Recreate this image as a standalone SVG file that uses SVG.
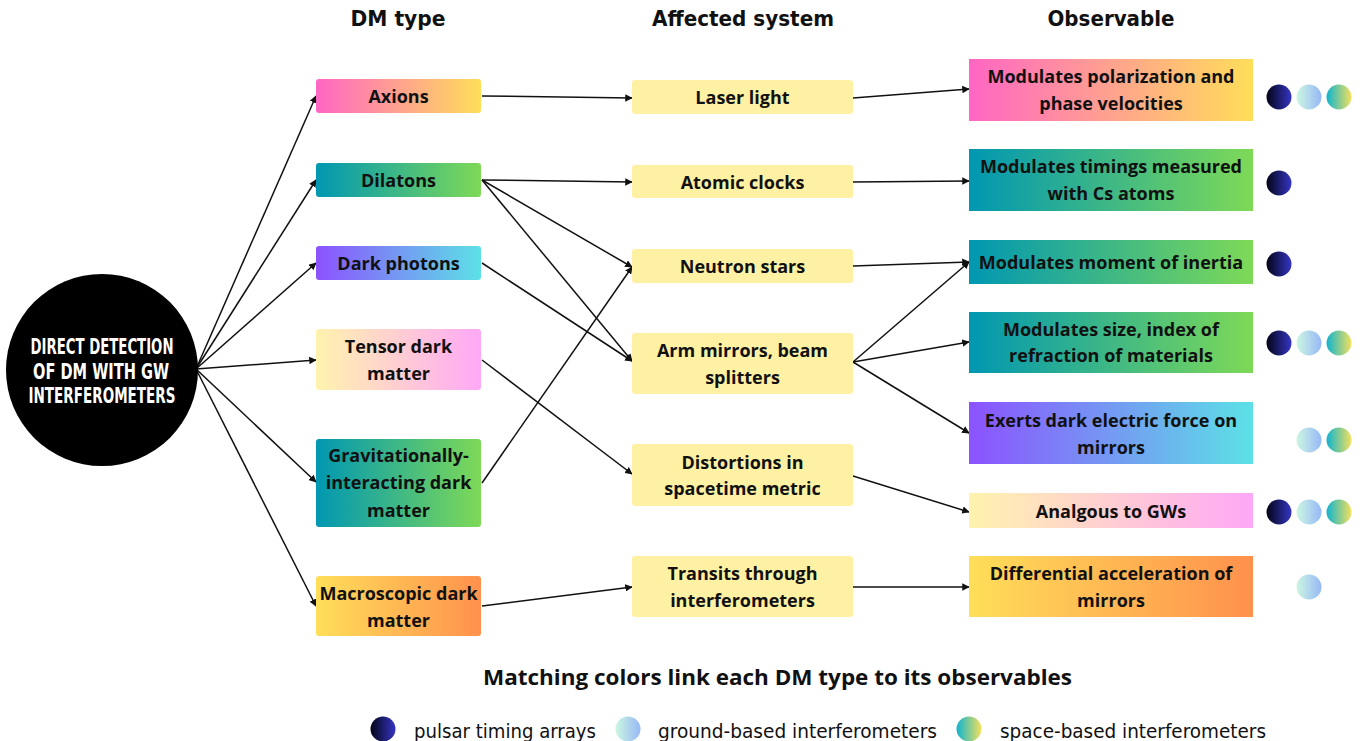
<svg xmlns="http://www.w3.org/2000/svg" width="1364" height="741" viewBox="0 0 1364 741">
<style>
.t{font-family:"Open Sans","Noto Sans","Liberation Sans",sans-serif;font-weight:700;font-size:18px;fill:#111;text-anchor:middle}
.h{font-family:"Liberation Sans Narrow","DejaVu Sans Condensed","Liberation Sans",sans-serif;font-weight:700;font-size:22px;fill:#111;text-anchor:middle}
.lg{font-family:"Liberation Sans Narrow","DejaVu Sans Condensed","Liberation Sans",sans-serif;font-weight:400;font-size:20px;fill:#111}
.c{font-family:"Liberation Sans Narrow","DejaVu Sans Condensed","Liberation Sans",sans-serif;font-weight:700;font-size:22px;fill:#fff;text-anchor:middle}
.cap{font-family:"Open Sans","Noto Sans","Liberation Sans",sans-serif;font-weight:700;font-size:22px;fill:#111;text-anchor:middle}
.sys{fill:#FFF1A3}
.ln{stroke:#111;stroke-width:1.5;fill:none;marker-end:url(#ah)}
</style>
<defs>
<marker id="ah" viewBox="0 0 10 10" refX="9" refY="5" markerWidth="5" markerHeight="5" orient="auto" markerUnits="strokeWidth">
<path d="M0,0 L10,5 L0,10 z" fill="#111"/>
</marker>
<linearGradient id="gAx" x1="0" y1="0" x2="1" y2="0"><stop offset="0" stop-color="#FF66C4"/><stop offset="1" stop-color="#FFDE59"/></linearGradient>
<linearGradient id="gDi" x1="0" y1="0" x2="1" y2="0"><stop offset="0" stop-color="#0097B2"/><stop offset="1" stop-color="#7ED957"/></linearGradient>
<linearGradient id="gDp" x1="0" y1="0" x2="1" y2="0"><stop offset="0" stop-color="#8C52FF"/><stop offset="1" stop-color="#5CE1E6"/></linearGradient>
<linearGradient id="gTe" x1="0" y1="0" x2="1" y2="0"><stop offset="0" stop-color="#FFF3AE"/><stop offset="1" stop-color="#FFA8F7"/></linearGradient>
<linearGradient id="gMa" x1="0" y1="0" x2="1" y2="0"><stop offset="0" stop-color="#FFDE59"/><stop offset="1" stop-color="#FF914D"/></linearGradient>
<linearGradient id="dP" x1="0" y1="0" x2="1" y2="0"><stop offset="0" stop-color="#050518"/><stop offset="1" stop-color="#3434C4"/></linearGradient>
<linearGradient id="dG" x1="0" y1="0" x2="1" y2="0"><stop offset="0" stop-color="#CCF7E0"/><stop offset="1" stop-color="#96B8F8"/></linearGradient>
<linearGradient id="dS" x1="0" y1="0" x2="1" y2="0"><stop offset="0" stop-color="#10B4CF"/><stop offset="1" stop-color="#F4E15C"/></linearGradient>
</defs>
<rect width="1364" height="741" fill="#fff"/>

<g id="headers">
<text class="h" x="398" y="26" textLength="95" lengthAdjust="spacingAndGlyphs">DM type</text>
<text class="h" x="743" y="26" textLength="182" lengthAdjust="spacingAndGlyphs">Affected system</text>
<text class="h" x="1111" y="26" textLength="127" lengthAdjust="spacingAndGlyphs">Observable</text>
</g>

<g id="connectors">
<line class="ln" x1="196" y1="369" x2="316" y2="96"/>
<line class="ln" x1="196" y1="369" x2="316" y2="180"/>
<line class="ln" x1="196" y1="369" x2="316" y2="263"/>
<line class="ln" x1="196" y1="369" x2="316" y2="360"/>
<line class="ln" x1="196" y1="369" x2="316" y2="482"/>
<line class="ln" x1="196" y1="369" x2="316" y2="606"/>
<line class="ln" x1="482" y1="96" x2="632" y2="98"/>
<line class="ln" x1="482" y1="180" x2="632" y2="182"/>
<line class="ln" x1="482" y1="180" x2="632" y2="267"/>
<line class="ln" x1="482" y1="180" x2="632" y2="361"/>
<line class="ln" x1="482" y1="263" x2="632" y2="361"/>
<line class="ln" x1="482" y1="360" x2="632" y2="474"/>
<line class="ln" x1="482" y1="483" x2="632" y2="267"/>
<line class="ln" x1="482" y1="606" x2="632" y2="587"/>
<line class="ln" x1="853" y1="98" x2="969" y2="89"/>
<line class="ln" x1="853" y1="182" x2="969" y2="181"/>
<line class="ln" x1="853" y1="266" x2="969" y2="262"/>
<line class="ln" x1="853" y1="362" x2="969" y2="262"/>
<line class="ln" x1="853" y1="362" x2="969" y2="342"/>
<line class="ln" x1="853" y1="362" x2="969" y2="433"/>
<line class="ln" x1="853" y1="476" x2="969" y2="512"/>
<line class="ln" x1="853" y1="587" x2="969" y2="587"/>
</g>

<g id="root">
<circle cx="102" cy="370" r="96" fill="#000"/>
<text class="c" x="102" y="354" textLength="143" lengthAdjust="spacingAndGlyphs">DIRECT DETECTION</text>
<text class="c" x="101" y="379" textLength="136" lengthAdjust="spacingAndGlyphs">OF DM WITH GW</text>
<text class="c" x="102" y="403" textLength="147" lengthAdjust="spacingAndGlyphs">INTERFEROMETERS</text>
</g>

<g id="dm-axions"><rect x="316" y="79" width="165" height="34" rx="3" fill="url(#gAx)"/><text class="t" x="398.5" y="103">Axions</text></g>
<g id="dm-dilatons"><rect x="316" y="163" width="165" height="34" rx="3" fill="url(#gDi)"/><text class="t" x="398.5" y="187">Dilatons</text></g>
<g id="dm-darkphotons"><rect x="316" y="246" width="165" height="34" rx="3" fill="url(#gDp)"/><text class="t" x="398.5" y="270">Dark photons</text></g>
<g id="dm-tensor"><rect x="316" y="329" width="165" height="61" rx="3" fill="url(#gTe)"/><text class="t" x="398.5" y="353">Tensor dark</text><text class="t" x="398.5" y="380">matter</text></g>
<g id="dm-grav"><rect x="316" y="439" width="165" height="88" rx="3" fill="url(#gDi)"/><text class="t" x="398.5" y="462">Gravitationally-</text><text class="t" x="398.5" y="489">interacting dark</text><text class="t" x="398.5" y="517">matter</text></g>
<g id="dm-macro"><rect x="316" y="576" width="165" height="60" rx="3" fill="url(#gMa)"/><text class="t" x="398.5" y="600">Macroscopic dark</text><text class="t" x="398.5" y="627">matter</text></g>

<g id="sys-laser"><rect class="sys" x="632" y="80" width="221" height="34" rx="3"/><text class="t" x="742.5" y="104">Laser light</text></g>
<g id="sys-clocks"><rect class="sys" x="632" y="165" width="221" height="33" rx="3"/><text class="t" x="742.5" y="189">Atomic clocks</text></g>
<g id="sys-neutron"><rect class="sys" x="632" y="249" width="221" height="34" rx="3"/><text class="t" x="742.5" y="273">Neutron stars</text></g>
<g id="sys-mirrors"><rect class="sys" x="632" y="333" width="221" height="61" rx="3"/><text class="t" x="742.5" y="357">Arm mirrors, beam</text><text class="t" x="742.5" y="384">splitters</text></g>
<g id="sys-distortions"><rect class="sys" x="632" y="444" width="221" height="62" rx="3"/><text class="t" x="742.5" y="469">Distortions in</text><text class="t" x="742.5" y="495">spacetime metric</text></g>
<g id="sys-transits"><rect class="sys" x="632" y="556" width="221" height="61" rx="3"/><text class="t" x="742.5" y="580">Transits through</text><text class="t" x="742.5" y="607">interferometers</text></g>

<g id="obs-polarization"><rect x="969" y="59" width="284" height="62" fill="url(#gAx)"/><text class="t" x="1111" y="83">Modulates polarization and</text><text class="t" x="1111" y="110">phase velocities</text></g>
<g id="obs-timings"><rect x="969" y="149" width="284" height="62" fill="url(#gDi)"/><text class="t" x="1111" y="173">Modulates timings measured</text><text class="t" x="1111" y="200">with Cs atoms</text></g>
<g id="obs-inertia"><rect x="969" y="240" width="284" height="44" fill="url(#gDi)"/><text class="t" x="1111" y="269">Modulates moment of inertia</text></g>
<g id="obs-size"><rect x="969" y="312" width="284" height="61" fill="url(#gDi)"/><text class="t" x="1111" y="336">Modulates size, index of</text><text class="t" x="1111" y="362">refraction of materials</text></g>
<g id="obs-force"><rect x="969" y="402" width="284" height="62" fill="url(#gDp)"/><text class="t" x="1111" y="427">Exerts dark electric force on</text><text class="t" x="1111" y="454">mirrors</text></g>
<g id="obs-gw"><rect x="969" y="493" width="284" height="35" fill="url(#gTe)"/><text class="t" x="1111" y="518">Analgous to GWs</text></g>
<g id="obs-accel"><rect x="969" y="556" width="284" height="61" fill="url(#gMa)"/><text class="t" x="1111" y="580">Differential acceleration of</text><text class="t" x="1111" y="607">mirrors</text></g>

<g id="dots">
<circle cx="1279" cy="97" r="12.5" fill="url(#dP)"/><circle cx="1309" cy="97" r="12.5" fill="url(#dG)"/><circle cx="1339" cy="97" r="12.5" fill="url(#dS)"/>
<circle cx="1279" cy="183" r="12.5" fill="url(#dP)"/>
<circle cx="1279" cy="264" r="12.5" fill="url(#dP)"/>
<circle cx="1279" cy="343" r="12.5" fill="url(#dP)"/><circle cx="1309" cy="343" r="12.5" fill="url(#dG)"/><circle cx="1339" cy="343" r="12.5" fill="url(#dS)"/>
<circle cx="1309" cy="440" r="12.5" fill="url(#dG)"/><circle cx="1339" cy="440" r="12.5" fill="url(#dS)"/>
<circle cx="1279" cy="512" r="12.5" fill="url(#dP)"/><circle cx="1309" cy="512" r="12.5" fill="url(#dG)"/><circle cx="1339" cy="512" r="12.5" fill="url(#dS)"/>
<circle cx="1309" cy="587" r="12.5" fill="url(#dG)"/>
</g>

<g id="caption">
<text class="cap" x="777.5" y="685" textLength="589" lengthAdjust="spacingAndGlyphs">Matching colors link each DM type to its observables</text>
</g>

<g id="legend">
<circle cx="383" cy="729" r="12.5" fill="url(#dP)"/>
<text class="lg" x="414" y="738" textLength="182" lengthAdjust="spacingAndGlyphs">pulsar timing arrays</text>
<circle cx="628" cy="729" r="12.5" fill="url(#dG)"/>
<text class="lg" x="658" y="738" textLength="279" lengthAdjust="spacingAndGlyphs">ground-based interferometers</text>
<circle cx="969" cy="729" r="12.5" fill="url(#dS)"/>
<text class="lg" x="1000" y="738" textLength="266" lengthAdjust="spacingAndGlyphs">space-based interferometers</text>
</g>
</svg>
